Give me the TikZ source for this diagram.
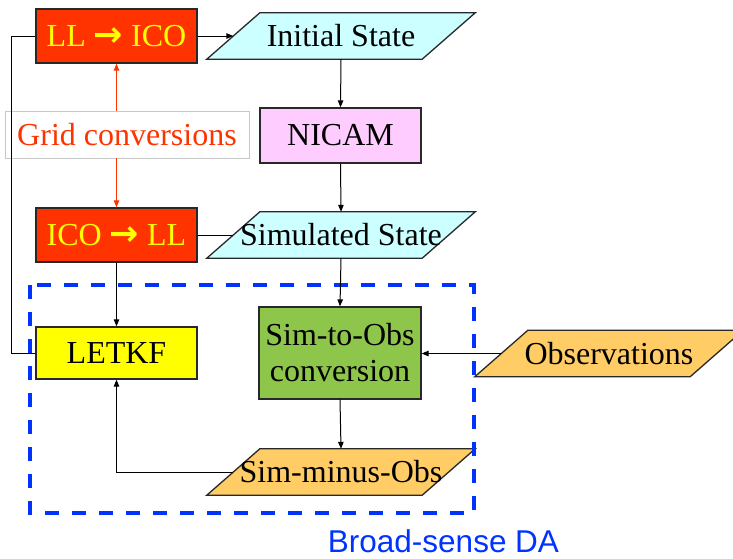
\documentclass[tikz,border=0pt]{standalone}
\usepackage{fontspec}
\setmainfont{Liberation Serif}
\newfontfamily\labelsans{Liberation Sans}
\newfontfamily\arrowfont{DejaVu Sans}
\usetikzlibrary{arrows.meta,backgrounds,calc}

\definecolor{convred}{RGB}{255,51,0}
\definecolor{convtext}{RGB}{255,255,0}
\definecolor{statecyan}{RGB}{204,255,255}
\definecolor{modelpink}{RGB}{255,204,255}
\definecolor{letkfyellow}{RGB}{255,255,0}
\definecolor{obsgreen}{RGB}{141,198,74}
\definecolor{obsorange}{RGB}{255,204,102}
\definecolor{dablue}{RGB}{0,51,255}
\definecolor{edgegray}{RGB}{40,40,40}
\definecolor{gridframe}{RGB}{200,200,200}

% parallelogram drawn behind a text node whose west/east anchors
% sit on the middles of the slanted sides
\newcommand{\parashape}[2]{%
  \begin{pgfonlayer}{background}
    \filldraw[fill=#2, draw=edgegray, line width=1.3pt]
      ([xshift=-26.5pt]#1.south west) -- ([xshift=26.5pt]#1.north west)
      -- ([xshift=26.5pt]#1.north east) -- ([xshift=-26.5pt]#1.south east) -- cycle;
  \end{pgfonlayer}}

% heavy arrow glyph used inside the conversion boxes
\newcommand{\convarrow}{{\arrowfont\bfseries\fontsize{35}{36}\selectfont →}}

\begin{document}
\begin{tikzpicture}[x=1pt, y=-1pt,
  every node/.style={font=\fontsize{32}{36}\selectfont},
  procbox/.style={draw=edgegray, line width=1.3pt, minimum width=161pt, inner sep=0pt},
  convbox/.style={procbox, fill=convred, text=convtext, minimum height=54pt},
  databox/.style={inner sep=0pt, minimum width=215pt, minimum height=46pt},
  flow/.style={line width=1pt, -{Triangle[length=7pt, width=5.5pt]}},
  link/.style={line width=1pt},
  convflow/.style={draw=convred, line width=1pt, -{Triangle[length=7pt, width=5.5pt]}, fill=convred}
]
\useasboundingbox (0,0) rectangle (733,558);

% conversion and processing boxes
\node[convbox] (ll2ico) at (116.5,36) {LL \convarrow{} ICO};
\node[convbox] (ico2ll) at (116.5,235) {ICO \convarrow{} LL};
\node[procbox, fill=letkfyellow, minimum height=52pt] (letkf) at (116.5,353) {LETKF};
\node[procbox, fill=modelpink, minimum height=55pt] (nicam) at (340.5,135.5) {NICAM};
\node[procbox, fill=obsgreen, minimum width=162pt, minimum height=92pt,
      align=center, font=\fontsize{32}{36}\selectfont] (s2o) at (340,353) {Sim-to-Obs\\conversion};
\node[draw=gridframe, line width=0.8pt, text=convred, minimum width=244pt,
      minimum height=47pt, inner sep=0pt] (grid) at (127,134.5) {Grid conversions};

% data (parallelogram) nodes
\node[databox] (init) at (341,36) {Initial State};
\parashape{init}{statecyan}
\node[databox] (sim) at (341,235) {Simulated State};
\parashape{sim}{statecyan}
\node[databox] (obs) at (609,353.5) {Observations};
\parashape{obs}{obsorange}
\node[databox] (smo) at (341,472) {Sim-minus-Obs};
\parashape{smo}{obsorange}

% data assimilation frame
\draw[dablue, line width=3.5pt, dash pattern=on 14pt off 13pt] (30,285) rectangle (474,513);
\node[font=\labelsans\fontsize{31.5}{34}\selectfont, text=dablue, anchor=base] (da) at (443.5,552) {Broad-sense DA};

% connectors
\draw[flow] (ll2ico.east) -- (init.west);
\draw[flow] (init.south) -- (nicam.north);
\draw[flow] (nicam.south) -- (sim.north);
\draw[link] (ico2ll.east) -- (sim.west);
\draw[flow] (sim.south) -- (s2o.north);
\draw[flow] (obs.west) -- (obs.west -| s2o.east);
\draw[flow] (s2o.south) -- (smo.north);
\draw[flow] (smo.west) -| (letkf.south);
\draw[flow] (ico2ll.south) -- (letkf.north);
\draw[link] (letkf.west) -- ++(-24,0) |- (ll2ico.west);
\draw[convflow] (grid.north -| ll2ico.south) -- (ll2ico.south);
\draw[convflow] (grid.south -| ico2ll.north) -- (ico2ll.north);
\end{tikzpicture}
\end{document}
